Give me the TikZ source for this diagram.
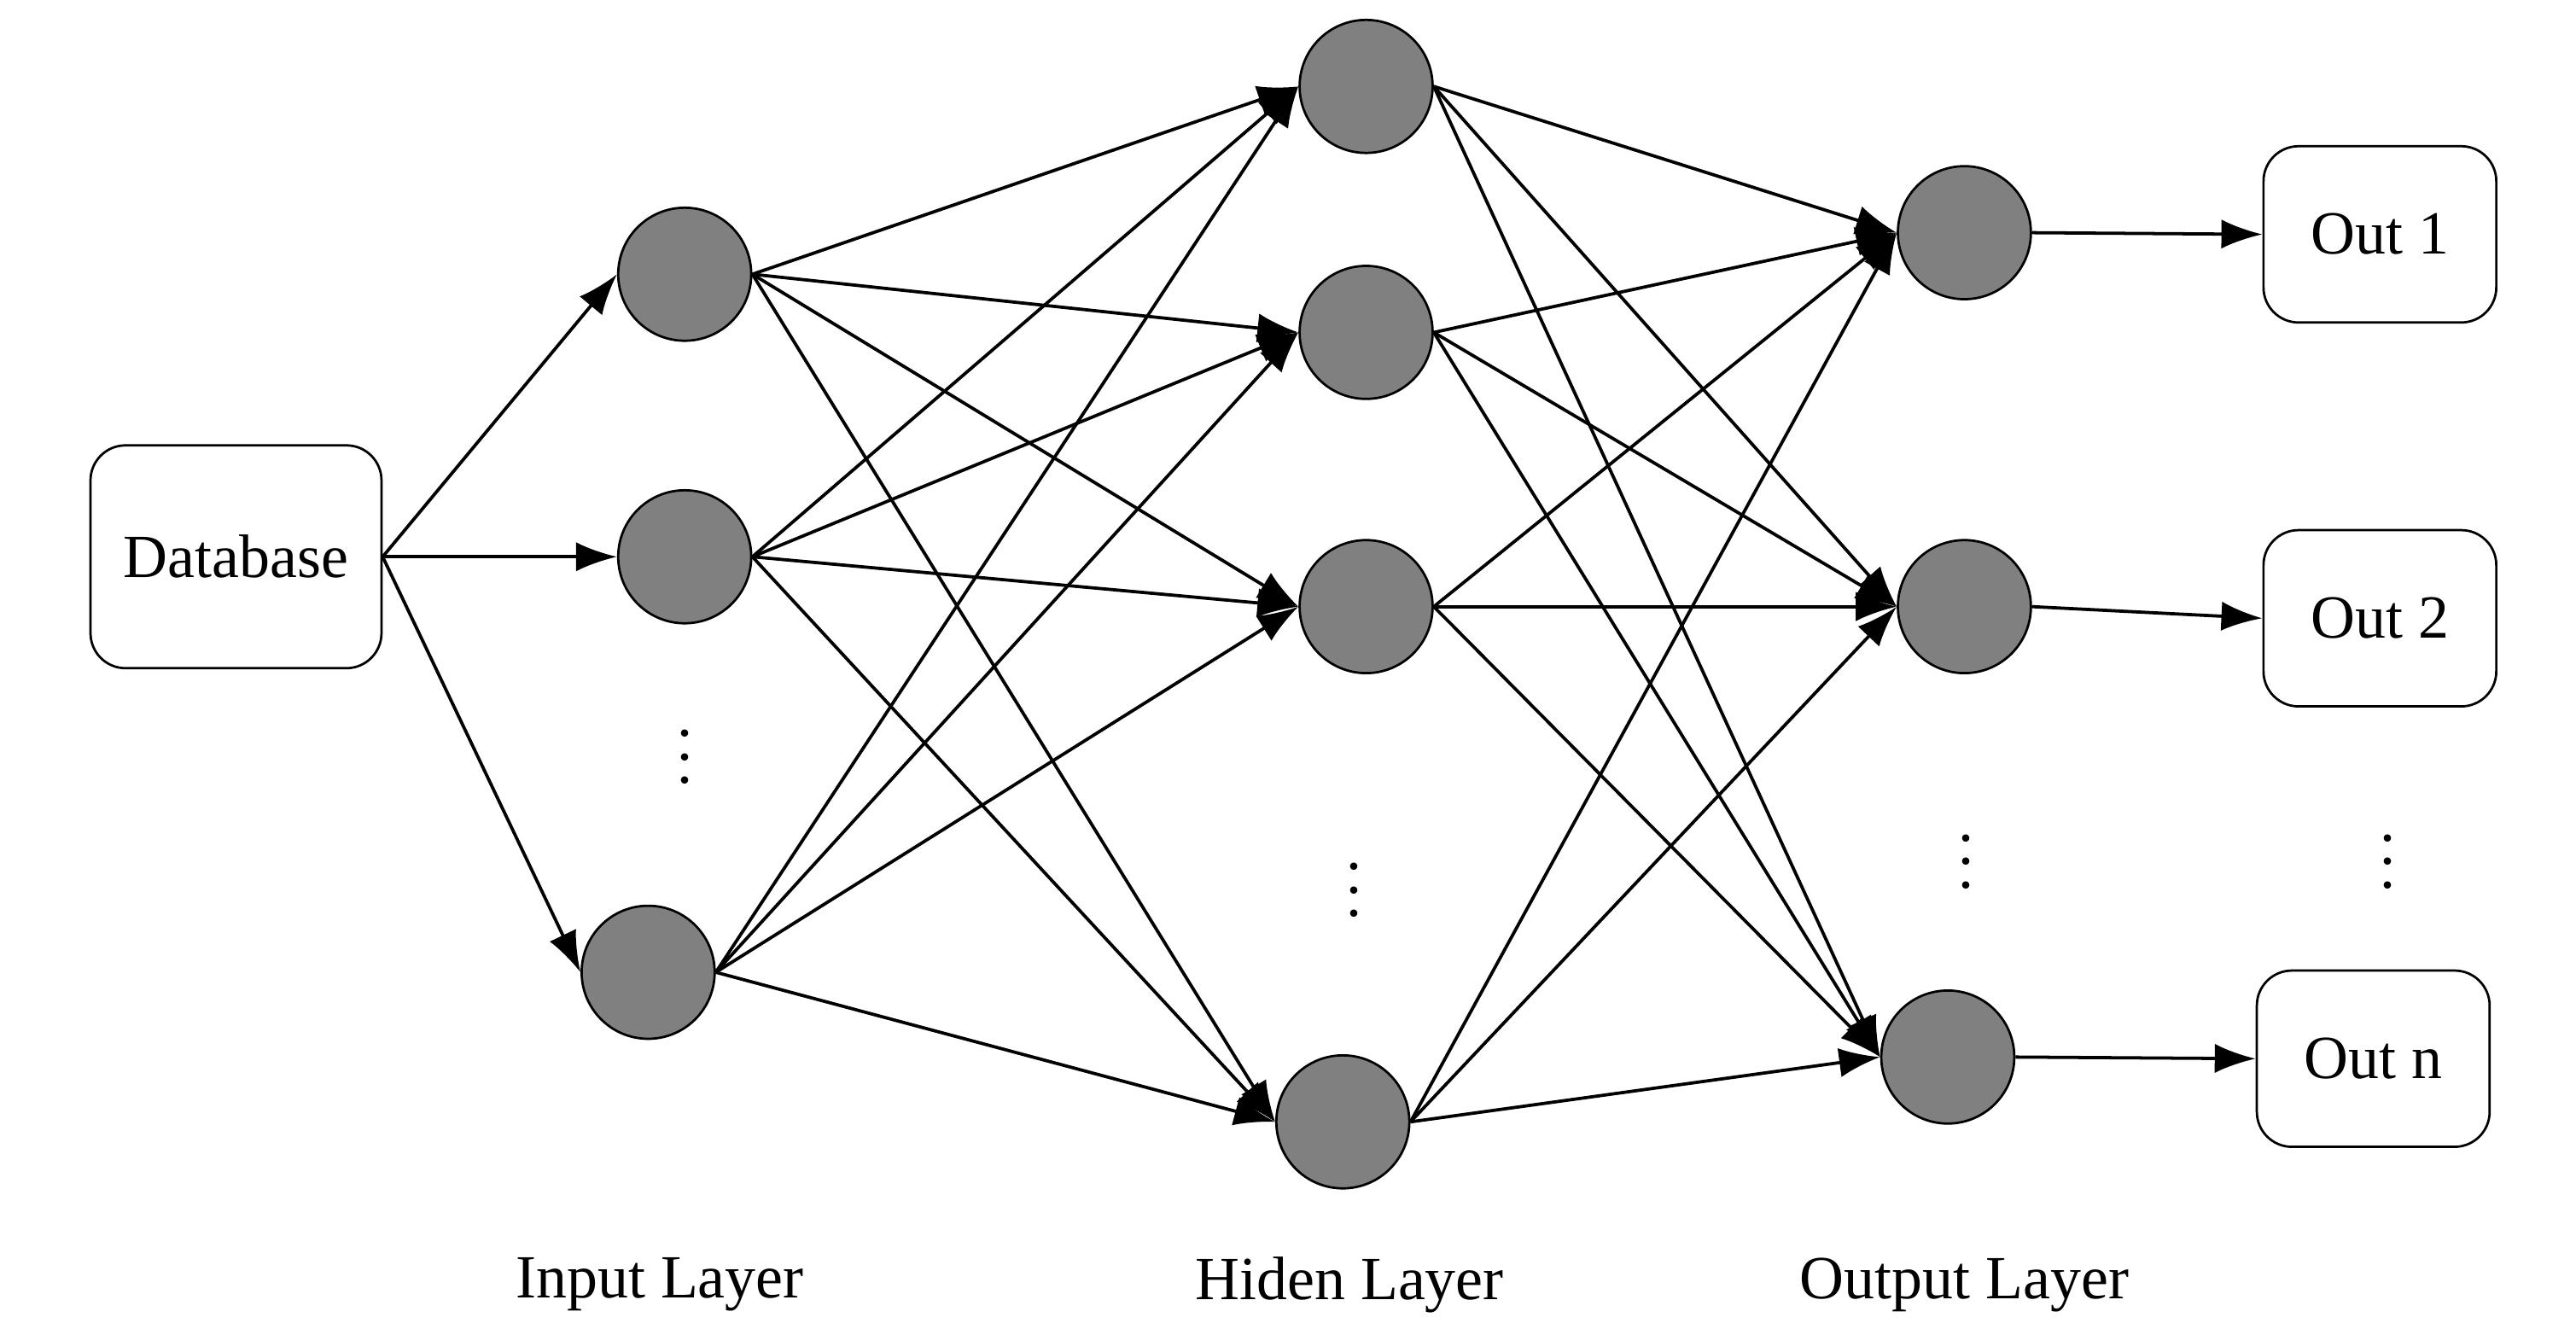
\documentclass[tikz,border=0pt]{standalone}
\usepackage{fontspec}
\setmainfont{Liberation Serif}
\usetikzlibrary{arrows.meta}

\begin{document}
\begin{tikzpicture}[
                x=0.01cm,y=-0.01cm,
                neuron/.style={circle,draw=black,fill=black!50,minimum size=0.8cm,inner sep=0},
                box/.style={rectangle,rounded corners=6pt,draw=black,minimum width=1.4cm,minimum height=1.06cm,font=\fontsize{10.5}{12}\selectfont},
                link/.style={-{Latex[length=7pt,width=5pt]},line width=0.55pt},
                dots/.style={font=\fontsize{10.5}{12}\selectfont},
                caption/.style={font=\fontsize{10.5}{12}\selectfont}
            ]
                \useasboundingbox (0,0) rectangle (1550,803);
                \node[box,minimum width=1.75cm,minimum height=1.34cm] (db) at (142,335) {Database};
                \node[neuron] (i1) at (412,165) {};
                \node[neuron] (i2) at (412,335) {};
                \node[neuron] (i3) at (390,585) {};
                \node[neuron] (h1) at (822,52) {};
                \node[neuron] (h2) at (822,200) {};
                \node[neuron] (h3) at (822,365) {};
                \node[neuron] (h4) at (808,675) {};
                \node[neuron] (o1) at (1182,140) {};
                \node[neuron] (o2) at (1182,365) {};
                \node[neuron] (o3) at (1172,636) {};
                \node[box] (out1) at (1432,141) {Out 1};
                \node[box] (out2) at (1432,372) {Out 2};
                \node[box] (out3) at (1428,637) {Out n};
                % vertical dots
                \node[dots] (di) at (412,445) {$\vdots$};
                \node[dots] (dh) at (815,525) {$\vdots$};
                \node[dots] (do) at (1183,508) {$\vdots$};
                \node[dots] (dout) at (1437,508) {$\vdots$};
                % connections
                \foreach \i in {1,2,3}
                    {
                    \draw[link] (db.east) -- (i\i.west);
                    \draw[link] (o\i.east) -- (out\i.west);
                    \foreach \j in {1,...,4}
                        {
                        \draw[link] (i\i.east) -- (h\j.west);
                        \draw[link] (h\j.east) -- (o\i.west);
                    }
                }
                \node[caption] (li) at (397,773) {Input Layer};
                \node[caption] (lh) at (812,773) {Hiden Layer};
                \node[caption] (lo) at (1182,773) {Output Layer};
            \end{tikzpicture}
\end{document}
